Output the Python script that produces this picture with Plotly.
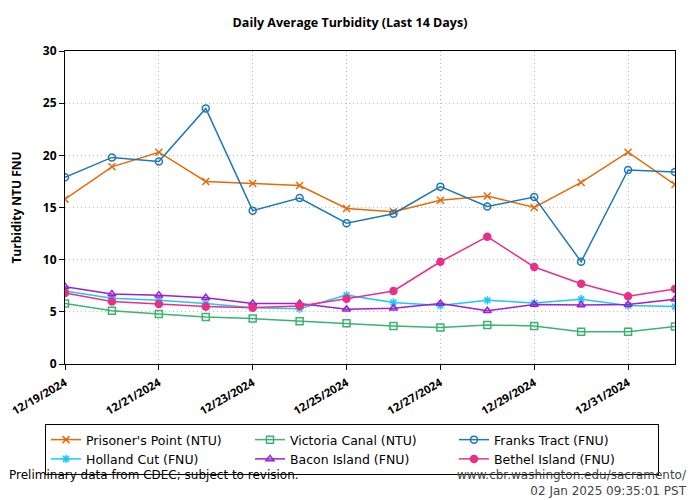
import plotly.graph_objects as go

dates = ["2024-12-19", "2024-12-20", "2024-12-21", "2024-12-22", "2024-12-23", "2024-12-24",
         "2024-12-25", "2024-12-26", "2024-12-27", "2024-12-28", "2024-12-29", "2024-12-30",
         "2024-12-31", "2025-01-01"]

prisoners_point = [15.8, 18.9, 20.3, 17.5, 17.3, 17.1, 14.9, 14.6, 15.7, 16.1, 15.0, 17.4, 20.3, 17.2]
victoria_canal = [5.8, 5.1, 4.8, 4.5, 4.35, 4.1, 3.9, 3.65, 3.5, 3.75, 3.65, 3.1, 3.1, 3.6]
franks_tract = [17.9, 19.8, 19.4, 24.5, 14.7, 15.9, 13.5, 14.4, 17.0, 15.1, 16.0, 9.8, 18.6, 18.4]
holland_cut = [7.0, 6.3, 6.1, 5.8, 5.4, 5.3, 6.6, 5.9, 5.6, 6.1, 5.85, 6.2, 5.6, 5.5]
bacon_island = [7.4, 6.7, 6.6, 6.35, 5.8, 5.8, 5.25, 5.35, 5.8, 5.1, 5.7, 5.65, 5.7, 6.2]
bethel_island = [6.8, 6.0, 5.75, 5.5, 5.4, 5.55, 6.25, 7.0, 9.8, 12.2, 9.3, 7.7, 6.5, 7.2]

tick_dates = ["2024-12-19", "2024-12-21", "2024-12-23", "2024-12-25", "2024-12-27", "2024-12-29", "2024-12-31"]
tick_labels = ["12/19/2024", "12/21/2024", "12/23/2024", "12/25/2024", "12/27/2024", "12/29/2024", "12/31/2024"]

series = [
    ("Prisoner's Point (NTU)", prisoners_point, "#E66A0A", "x-thin-open", 7),
    ("Victoria Canal (NTU)", victoria_canal, "#3CB371", "square-open", 7),
    ("Franks Tract (FNU)", franks_tract, "#1F78B4", "circle-open", 7),
    ("Holland Cut (FNU)", holland_cut, "#1EC8F5", "asterisk-open", 7),
    ("Bacon Island (FNU)", bacon_island, "#9B1FD6", "triangle-up-open", 7),
    ("Bethel Island (FNU)", bethel_island, "#E8308A", "circle", 7),
]

fig = go.Figure()
for name, vals, color, sym, size in series:
    fig.add_trace(go.Scatter(
        x=dates, y=vals, name=name, mode="lines+markers",
        line=dict(color=color, width=1.5),
        marker=dict(symbol=sym, size=size, color=color, line=dict(color=color, width=1.5)),
    ))

# page body has an 8px margin; figure is sized so it fills the 700x500 window
W, H = 692, 492
OFF = 8

fig.update_layout(
    width=W, height=H,
    margin=dict(l=65 - OFF, r=25, t=51 - OFF, b=136, autoexpand=False),
    plot_bgcolor="white", paper_bgcolor="white",
    font=dict(family="DejaVu Sans", size=12, color="black"),
    title=dict(text="<b>Daily Average Turbidity (Last 14 Days)</b>",
               x=(350 - OFF) / W, xanchor="center",
               xref="container", yref="container",
               y=1 - (23 - OFF) / H, yanchor="middle", font=dict(family="Open Sans", size=12.5)),
    showlegend=True,
    legend=dict(orientation="h", x=(45 - 65) / 610, xanchor="left", y=(364 - 424) / 313, yanchor="top",
                bordercolor="black", borderwidth=1, entrywidth=159, entrywidthmode="pixels",
                font=dict(family="DejaVu Sans", size=12.5), tracegroupgap=0,
                itemwidth=30),
)

fig.update_xaxes(
    range=[dates[0], dates[-1]], tickvals=tick_dates, ticktext=tick_labels,
    tickangle=-30, ticks="outside", ticklen=5, tickcolor="black",
    showline=True, linecolor="black", linewidth=1, mirror=True,
    showgrid=True, gridcolor="#bbbbbb", griddash="1px,3px", gridwidth=1,
    tickfont=dict(family="Open Sans", size=11.3, weight="bold"),
    ticklabeloverflow="allow", ticklabelstandoff=2,
    zeroline=False, automargin=False,
)
fig.update_yaxes(
    range=[0, 30], dtick=5, ticks="outside", ticklen=5, tickcolor="black",
    showline=True, linecolor="black", linewidth=1, mirror=True,
    showgrid=True, gridcolor="#bbbbbb", griddash="1px,3px", gridwidth=1,
    tickfont=dict(family="Open Sans", size=12, weight="bold"),
    title=dict(text="<b>Turbidity NTU FNU</b>", font=dict(family="Open Sans", size=12), standoff=20),
    zeroline=False, automargin=False,
)

fig.add_annotation(text="Preliminary data from CDEC; subject to revision.", xref="paper", yref="paper",
                   x=(7 - 65) / 610, y=(364 - 475) / 313, xanchor="left", yanchor="middle", showarrow=False,
                   font=dict(family="DejaVu Sans", size=12))
fig.add_annotation(text="www.cbr.washington.edu/sacramento/<br>02 Jan 2025 09:35:01 PST", xref="paper", yref="paper",
                   x=(689 - 65) / 610, y=(364 - 482.5) / 313, xanchor="right", yanchor="middle", align="right",
                   showarrow=False,
                   font=dict(family="DejaVu Sans", size=12, color="#444444"))

fig.write_html("out.html")
